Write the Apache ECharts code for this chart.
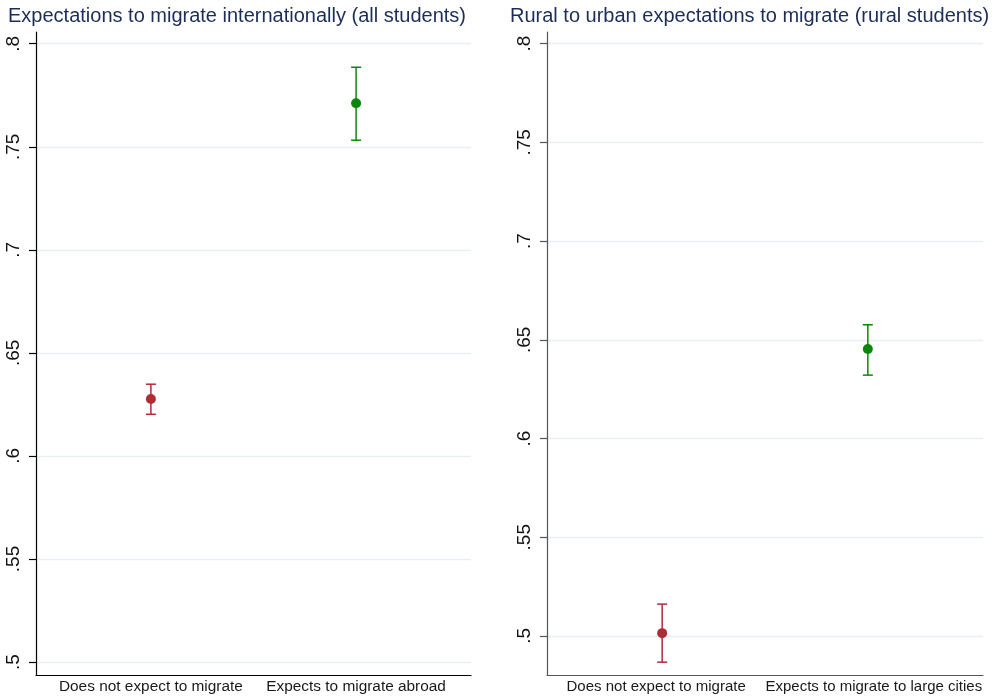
<!DOCTYPE html>
<html>
<head>
<meta charset="utf-8">
<script src="https://cdn.jsdelivr.net/npm/echarts@6/dist/echarts.min.js"></script>
<style>
  html, body { margin: 0; padding: 0; background: #fff; }
  #chart { width: 993px; height: 697px; }
</style>
</head>
<body>
<div id="chart"></div>
<script>
// Panel titles
const leftTitle = 'Expectations to migrate internationally (all students)';
const rightTitle = 'Rural to urban expectations to migrate (rural students)';

// Group labels along each x axis
const leftCategories = ['Does not expect to migrate', 'Expects to migrate abroad'];
const rightCategories = ['Does not expect to migrate', 'Expects to migrate to large cities'];

// Mean share and confidence interval bounds per group
const leftMeans = [0.6276, 0.7711];
const leftLower = [0.6202, 0.7532];
const leftUpper = [0.6348, 0.7886];

const rightMeans = [0.5014, 0.6453];
const rightLower = [0.4867, 0.6321];
const rightUpper = [0.5161, 0.6576];

// Y tick values shared by both panels
const yTicks = [0.5, 0.55, 0.6, 0.65, 0.7, 0.75, 0.8];

// Group colours: no expectation / expects to migrate
const groupColors = ['#ad2d37', '#0a870a'];

const FONT = 'Liberation Sans, Arial, Helvetica, sans-serif';
const GRID_COLOR = '#e6eff2';

function tickLabel(v) {
  return String(+(+v).toFixed(2)).replace(/^0\./, '.');
}

function errorBar(params, api) {
  const x = api.value(0);
  const lo = api.coord([x, api.value(1)]);
  const hi = api.coord([x, api.value(2)]);
  const half = 5;
  const style = { stroke: groupColors[params.dataIndex], lineWidth: 1.5 };
  return {
    type: 'group',
    children: [
      { type: 'line', shape: { x1: lo[0], y1: lo[1], x2: hi[0], y2: hi[1] }, style: style },
      { type: 'line', shape: { x1: lo[0] - half, y1: lo[1], x2: lo[0] + half, y2: lo[1] }, style: style },
      { type: 'line', shape: { x1: hi[0] - half, y1: hi[1], x2: hi[0] + half, y2: hi[1] }, style: style }
    ]
  };
}

// x labels; `spread` pushes the two labels apart so long names do not touch
function xAxisFor(gridIndex, cats, axisColor, fontSize, spread) {
  const base = { color: '#1a1a1a', fontFamily: FONT, fontSize: fontSize };
  return {
    type: 'value',
    gridIndex: gridIndex,
    min: 0.44,
    max: 2.56,
    axisLine: { show: true, lineStyle: { color: axisColor, width: 1.2 } },
    axisTick: { show: false },
    splitLine: { show: false },
    axisLabel: {
      customValues: [1, 2],
      formatter: function (v) {
        const i = Math.round(v) - 1;
        return cats[i] ? '{g' + i + '|' + cats[i] + '}' : '';
      },
      rich: {
        g0: Object.assign({ padding: [0, spread, 0, 0] }, base),
        g1: Object.assign({ padding: [0, 0, 0, spread] }, base)
      },
      color: '#1a1a1a',
      fontFamily: FONT,
      fontSize: fontSize,
      margin: 4
    }
  };
}

function yAxisFor(gridIndex, min, max, axisColor) {
  return {
    type: 'value',
    gridIndex: gridIndex,
    min: min,
    max: max,
    axisLine: { show: true, lineStyle: { color: axisColor, width: 1.2 } },
    axisTick: { show: true, length: 7, customValues: yTicks, lineStyle: { color: axisColor, width: 1.2 } },
    splitLine: { show: true, lineStyle: { color: GRID_COLOR, width: 1.3 } },
    axisLabel: {
      customValues: yTicks,
      rotate: 90,
      formatter: tickLabel,
      color: '#111',
      fontFamily: FONT,
      fontSize: 19,
      margin: 13
    }
  };
}

function points(means) {
  return means.map(function (m, i) {
    return { value: [i + 1, m], itemStyle: { color: groupColors[i], opacity: 1 } };
  });
}

function bars(lower, upper) {
  return lower.map(function (lo, i) { return [i + 1, lo, upper[i]]; });
}

const chart = echarts.init(document.getElementById('chart'), null, { renderer: 'canvas' });

const titleStyle = { fontFamily: FONT, fontSize: 20, fontWeight: 'normal', color: '#1b2d58' };

chart.setOption({
  animation: false,
  backgroundColor: '#ffffff',
  title: [
    { text: leftTitle, left: 8, top: 6, padding: 0, textStyle: titleStyle },
    { text: rightTitle, left: 510, top: 6, padding: 0, textStyle: titleStyle }
  ],
  grid: [
    { left: 36, top: 32, width: 435, height: 643, containLabel: false },
    { left: 547, top: 32, width: 436, height: 643, containLabel: false }
  ],
  xAxis: [
    xAxisFor(0, leftCategories, '#000', 15.4, 0),
    xAxisFor(1, rightCategories, '#555', 15, 12)
  ],
  yAxis: [
    yAxisFor(0, 0.4937, 0.8057, '#000'),
    yAxisFor(1, 0.4802, 0.8059, '#555')
  ],
  series: [
    {
      type: 'custom', xAxisIndex: 0, yAxisIndex: 0,
      renderItem: errorBar, data: bars(leftLower, leftUpper), z: 3
    },
    {
      type: 'scatter', xAxisIndex: 0, yAxisIndex: 0,
      symbol: 'circle', symbolSize: 10, data: points(leftMeans), z: 4
    },
    {
      type: 'custom', xAxisIndex: 1, yAxisIndex: 1,
      renderItem: errorBar, data: bars(rightLower, rightUpper), z: 3
    },
    {
      type: 'scatter', xAxisIndex: 1, yAxisIndex: 1,
      symbol: 'circle', symbolSize: 10, data: points(rightMeans), z: 4
    }
  ]
});
</script>
</body>
</html>
